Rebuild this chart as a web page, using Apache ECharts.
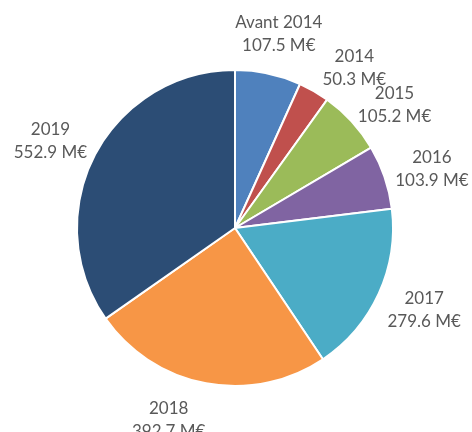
<!DOCTYPE html>
<html>
<head>
<meta charset="utf-8">
<script src="https://cdn.jsdelivr.net/npm/echarts@6/dist/echarts.min.js"></script>
<style>
  html, body { margin: 0; padding: 0; background: #fff; }
  #chart { width: 472px; height: 432px; }
</style>
</head>
<body>
<div id="chart"></div>
<script>
// données
const categories = ['Avant 2014', '2014', '2015', '2016', '2017', '2018', '2019'];
const values = [107.5, 50.3, 105.2, 103.9, 279.6, 392.7, 552.9];
const unit = ' M€';
const colors = ['#4F81BD', '#C0504D', '#9BBB59', '#8064A2', '#4BACC6', '#F79646', '#2C4D75'];

// mise en page
const CX = 235, CY = 228, R = 158;
const FONT = 'Lato';
const FONT_SIZE = 17;
const LINE_H = 23;
const TEXT_DY = 2;
const TOL_X = 0, TOL_Y = 10;
const BOTTOM_LIMIT = 443;   // bas de la zone du graphique d'origine

// étiquettes à l'extérieur de chaque part, décalées si elles se chevauchent
const total = values.reduce((a, b) => a + b, 0);
const ctx = document.createElement('canvas').getContext('2d');
ctx.font = FONT_SIZE + 'px ' + FONT;

function place(angle, w, h) {
  const sx = Math.sin(angle), sy = -Math.cos(angle);
  return {
    x: CX + sx * (R + 50),
    y: CY + sy * (R + 27 + 16 * Math.abs(sy)) + TEXT_DY,
    w: w, h: h
  };
}

function overlaps(a, b) {
  return Math.abs(a.x - b.x) < (a.w + b.w) / 2 - TOL_X &&
         Math.abs(a.y - b.y) < (a.h + b.h) / 2 - TOL_Y;
}

const labelBoxes = [];
let acc = 0;
values.forEach((v, i) => {
  let angle = (acc + v / 2) / total * Math.PI * 2;
  acc += v;
  const lines = [categories[i], v.toFixed(1) + unit];
  const w = Math.max(...lines.map(t => ctx.measureText(t).width));
  const h = LINE_H * 2;
  let box = place(angle, w, h);
  const prev = labelBoxes[i - 1];
  for (let k = 0; prev && k < 40 && overlaps(box, prev); k++) {
    angle += Math.PI / 360;
    box = place(angle, w, h);
  }
  // rester dans la zone du graphique : glisser le long du cercle
  const side = Math.sin(angle) < 0 ? 1 : -1;
  for (let k = 0; k < 60 && box.y + h / 2 > BOTTOM_LIMIT; k++) {
    angle += side * Math.PI / 360;
    box = place(angle, w, h);
  }
  labelBoxes.push(box);
});

const chart = echarts.init(document.getElementById('chart'));

const option = {
  animation: false,
  color: colors,
  series: [
    {
      type: 'pie',
      center: [CX, CY],
      radius: R,
      startAngle: 90,
      clockwise: true,
      avoidLabelOverlap: false,
      itemStyle: {
        borderColor: '#fff',
        borderWidth: 2
      },
      label: {
        show: true,
        position: 'outside',
        formatter: p => p.name + '\n' + p.value.toFixed(1) + unit,
        fontFamily: FONT,
        fontSize: FONT_SIZE,
        lineHeight: LINE_H,
        color: '#595959'
      },
      labelLine: { show: false },
      labelLayout: p => ({
        x: labelBoxes[p.dataIndex].x,
        y: labelBoxes[p.dataIndex].y,
        align: 'center',
        verticalAlign: 'middle'
      }),
      emphasis: { scale: false },
      data: categories.map((c, i) => ({ name: c, value: values[i] }))
    }
  ]
};

chart.setOption(option);
</script>
</body>
</html>
